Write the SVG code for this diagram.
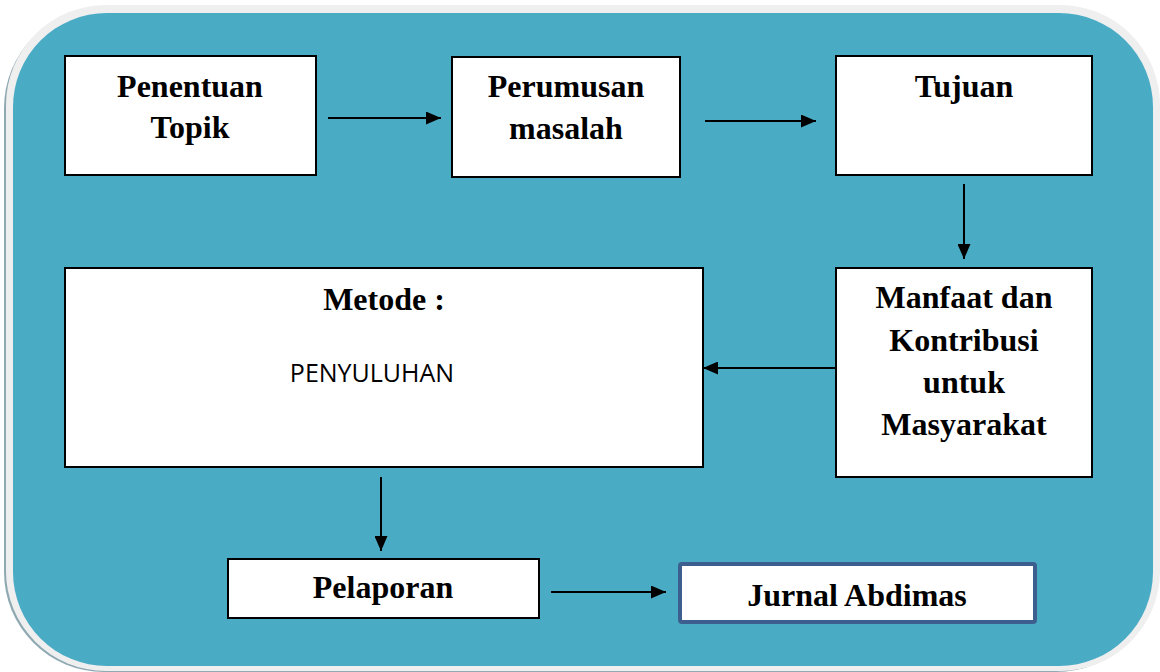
<svg xmlns="http://www.w3.org/2000/svg" width="1160" height="672" viewBox="0 0 1160 672">
<defs>
<style>
.box{fill:#fff;stroke:#000;stroke-width:2}
.t{font-family:"Liberation Serif","Times New Roman",serif;font-weight:bold;font-size:32px;fill:#000;text-anchor:middle}
.s{font-family:"Open Sans","Liberation Sans",sans-serif;font-size:25px;fill:#000;text-anchor:middle}
.c{stroke:#000;stroke-width:2;fill:none;marker-end:url(#ah)}
</style>
<marker id="ah" viewBox="0 0 15 13" refX="15" refY="6.5" markerWidth="15" markerHeight="13" markerUnits="userSpaceOnUse" orient="auto">
<path d="M0,0 L15,6.5 L0,13 Z" fill="#000"/>
</marker>
</defs>
<rect width="1160" height="672" fill="#fff"/>
<g id="panel">
<rect x="4" y="8" width="1152" height="664" rx="100" fill="#8fa9b3"/>
<rect x="6" y="5" width="1154" height="666" rx="100" fill="#efefef"/>
<rect x="13" y="13" width="1140" height="653" rx="94" fill="#4aabc5"/>
</g>
<g id="connectors">
<line class="c" x1="328" y1="118" x2="441" y2="118"/>
<line class="c" x1="705" y1="121" x2="816" y2="121"/>
<line class="c" x1="964" y1="184" x2="964" y2="259"/>
<line class="c" x1="836" y1="368" x2="703" y2="368"/>
<line class="c" x1="381" y1="477" x2="381" y2="551"/>
<line class="c" x1="551" y1="592" x2="666" y2="592"/>
</g>
<g id="penentuan">
<rect class="box" x="65" y="56" width="251" height="119"/>
<text class="t" x="190" y="97">Penentuan</text>
<text class="t" x="190" y="138">Topik</text>
</g>
<g id="perumusan">
<rect class="box" x="452" y="57" width="228" height="120"/>
<text class="t" x="566" y="97">Perumusan</text>
<text class="t" x="566" y="139">masalah</text>
</g>
<g id="tujuan">
<rect class="box" x="836" y="56" width="256" height="119"/>
<text class="t" x="964" y="97">Tujuan</text>
</g>
<g id="metode">
<rect class="box" x="65" y="268" width="638" height="199"/>
<text class="t" x="384" y="310">Metode :</text>
<text class="s" x="372" y="382">PENYULUHAN</text>
</g>
<g id="manfaat">
<rect class="box" x="836" y="268" width="256" height="209"/>
<text class="t" x="964" y="308">Manfaat dan</text>
<text class="t" x="964" y="351">Kontribusi</text>
<text class="t" x="964" y="393">untuk</text>
<text class="t" x="964" y="435">Masyarakat</text>
</g>
<g id="pelaporan">
<rect class="box" x="228" y="559" width="311" height="59"/>
<text class="t" x="383" y="598">Pelaporan</text>
</g>
<g id="jurnal">
<rect x="680" y="564" width="355" height="58" rx="2" fill="#fff" stroke="#3c5f8f" stroke-width="4"/>
<text class="t" x="857" y="606">Jurnal Abdimas</text>
</g>
</svg>
